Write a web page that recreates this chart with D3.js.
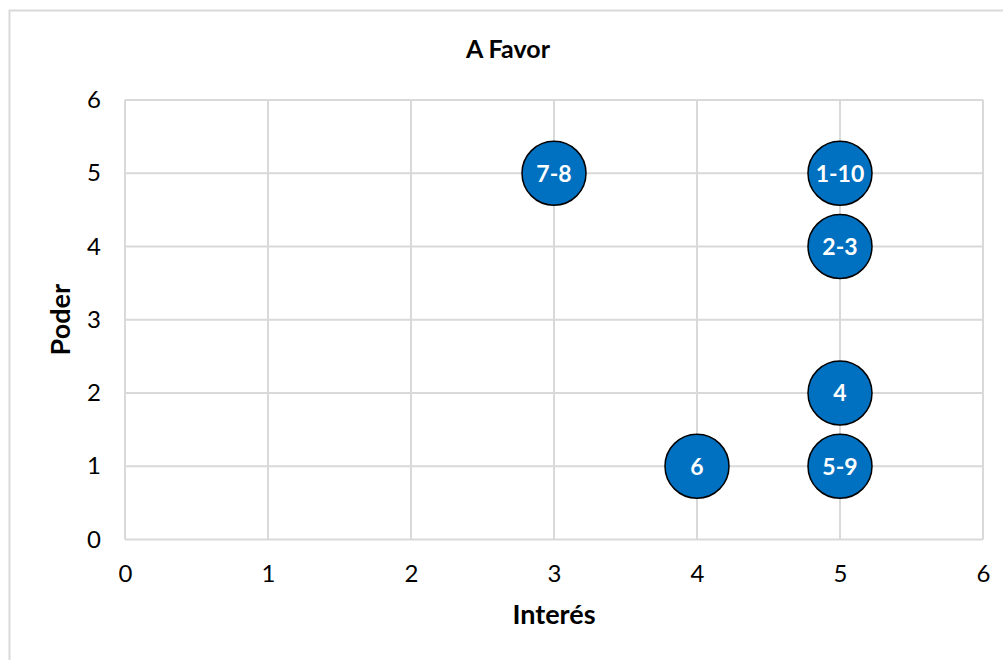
<!DOCTYPE html>
<html>
<head>
<meta charset="utf-8">
<script src="https://cdn.jsdelivr.net/npm/d3@7"></script>
<style>
  html, body { margin: 0; padding: 0; background: #fff; }
  svg { display: block; font-family: Lato, "Open Sans", sans-serif; }
</style>
</head>
<body>
<svg id="chart" width="1003" height="660"></svg>
<script>
// Stakeholder map: interest (x) vs power (y)
const chartTitle = "A Favor";
const xTitle = "Interés";
const yTitle = "Poder";
const interes = [3, 5, 5, 5, 4, 5];
const poder   = [5, 5, 4, 2, 1, 1];
const labels  = ["7-8", "1-10", "2-3", "4", "6", "5-9"];
const xTicks = [0, 1, 2, 3, 4, 5, 6];
const yTicks = [0, 1, 2, 3, 4, 5, 6];

const svg = d3.select("#chart");
const W = 1003, H = 660;
const plot = { left: 125, right: 983, top: 100, bottom: 539.5 };

// chart frame
svg.append("rect")
  .attr("x", 9.5).attr("y", 10.5)
  .attr("width", W + 20).attr("height", H + 20)
  .attr("fill", "#fff").attr("stroke", "#d9d9d9").attr("stroke-width", 2);

const x = d3.scaleLinear().domain([0, 6]).range([plot.left, plot.right]);
const y = d3.scaleLinear().domain([0, 6]).range([plot.bottom, plot.top]);

// gridlines
const grid = svg.append("g").attr("stroke", "#d9d9d9").attr("stroke-width", 2);
grid.selectAll("line.v").data(xTicks).join("line")
  .attr("class", "v")
  .attr("x1", d => x(d)).attr("x2", d => x(d))
  .attr("y1", plot.top).attr("y2", plot.bottom);
grid.selectAll("line.h").data(yTicks).join("line")
  .attr("class", "h")
  .attr("x1", plot.left).attr("x2", plot.right)
  .attr("y1", d => y(d)).attr("y2", d => y(d));

// axes (labels only, lines come from the grid)
const fmt = d3.format("d");
const xAxis = svg.append("g")
  .attr("transform", `translate(0,${plot.bottom})`)
  .call(d3.axisBottom(x).tickValues(xTicks).tickFormat(fmt).tickSize(0).tickPadding(25));
const yAxis = svg.append("g")
  .attr("transform", `translate(${plot.left},0)`)
  .call(d3.axisLeft(y).tickValues(yTicks).tickFormat(fmt).tickSize(0).tickPadding(24));
[xAxis, yAxis].forEach(a => {
  a.select(".domain").remove();
  a.selectAll("text")
    .attr("font-family", "Lato, 'Open Sans', sans-serif")
    .attr("font-size", 24)
    .attr("fill", "#000");
});

// title
svg.append("text")
  .attr("x", 508).attr("y", 58)
  .attr("text-anchor", "middle")
  .attr("font-size", 25).attr("font-weight", "bold")
  .text(chartTitle);

// axis titles
svg.append("text")
  .attr("x", (plot.left + plot.right) / 2).attr("y", 624)
  .attr("text-anchor", "middle")
  .attr("font-size", 27).attr("font-weight", "bold")
  .text(xTitle);
svg.append("text")
  .attr("transform", `translate(70,${(plot.top + plot.bottom) / 2}) rotate(-90)`)
  .attr("text-anchor", "middle")
  .attr("font-size", 27).attr("font-weight", "bold")
  .text(yTitle);

// bubbles
const pts = labels.map((l, i) => ({ x: interes[i], y: poder[i], label: l }));
const g = svg.append("g");
g.selectAll("circle").data(pts).join("circle")
  .attr("cx", d => x(d.x)).attr("cy", d => y(d.y))
  .attr("r", 32)
  .attr("fill", "#0070c0")
  .attr("stroke", "#000").attr("stroke-width", 1.5);
g.selectAll("text").data(pts).join("text")
  .attr("x", d => x(d.x)).attr("y", d => y(d.y))
  .attr("dy", "0.36em")
  .attr("text-anchor", "middle")
  .attr("font-size", 23).attr("font-weight", "bold")
  .attr("fill", "#fff")
  .text(d => d.label);
</script>
</body>
</html>
